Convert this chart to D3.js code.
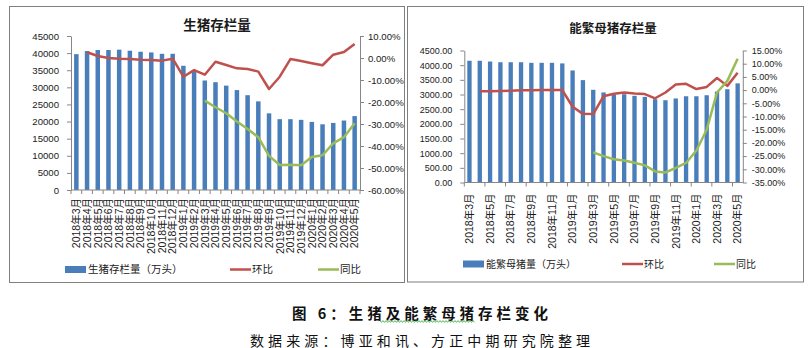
<!DOCTYPE html>
<html><head><meta charset="utf-8">
<script src="https://cdn.jsdelivr.net/npm/d3@7"></script>
<style>
html,body{margin:0;padding:0;background:#fff;}
svg{display:block;}
</style></head>
<body>
<svg id="c" width="812" height="348"></svg>
<script>
// ---------- data ----------
const months = ["2018年3月","2018年4月","2018年5月","2018年6月","2018年7月","2018年8月","2018年9月","2018年10月","2018年11月","2018年12月",
  "2019年1月","2019年2月","2019年3月","2019年4月","2019年5月","2019年6月","2019年7月","2019年8月","2019年9月","2019年10月","2019年11月","2019年12月",
  "2020年1月","2020年2月","2020年3月","2020年4月","2020年5月"];
const hogStock = [39700,40600,40900,40900,41000,40700,40400,40200,39800,39800,36300,34900,32000,31500,30500,29200,27700,25900,22400,20700,20700,20500,19900,19200,19600,20300,21600];
const hogMoM = [null,2.6,0.9,0.0,-0.3,-0.45,-0.8,-0.9,-1.2,-0.3,-8.5,-5.5,-7.6,-1.7,-3.2,-4.7,-5.0,-6.2,-14.1,-8.5,-0.5,-1.4,-2.4,-3.3,1.5,2.7,6.4];
const hogYoY = [null,null,null,null,null,null,null,null,null,null,null,null,-19.4,-22.4,-25.1,-28.9,-32.3,-36.0,-44.5,-48.6,-48.5,-48.8,-45.0,-44.2,-38.8,-36.0,-29.7];
const sowStock = [4150,4150,4125,4100,4100,4100,4080,4080,4080,4060,3820,3490,3160,3070,3000,3010,2955,2920,2840,2805,2865,2940,2940,2975,3100,3180,3380];
const sowMoM = [null,-0.4,-0.4,-0.3,-0.2,-0.1,-0.1,0.0,0.0,0.0,-6.3,-9.0,-9.1,-2.3,-1.4,-0.9,-1.3,-1.5,-3.1,-0.9,2.1,2.4,0.4,1.2,4.6,1.6,6.6];
const sowYoY = [null,null,null,null,null,null,null,null,null,null,null,null,-23.6,-25.0,-26.2,-26.7,-27.5,-28.5,-30.8,-31.2,-29.5,-27.6,-22.9,-15.0,-0.9,3.5,11.9];
const hogLeftTicks = [0,5000,10000,15000,20000,25000,30000,35000,40000,45000];
const hogRightTicks = [-60,-50,-40,-30,-20,-10,0,10];
const sowLeftTicks = [0,500,1000,1500,2000,2500,3000,3500,4000,4500];
const sowRightTicks = [-35,-30,-25,-20,-15,-10,-5,0,5,10,15];
const legendHog = ["生猪存栏量（万头）","环比","同比"];
const legendSow = ["能繁母猪量（万头）","环比","同比"];
const titles = ["生猪存栏量","能繁母猪存栏量"];
const caption1 = "图 6：生猪及能繁母猪存栏变化";
const caption2 = "数据来源：博亚和讯、方正中期研究院整理";

// ---------- style ----------
const BLUE = "#4a7ebb", RED = "#c0504d", GREEN = "#9bbb59", AXIS = "#868686";
const NUMFONT = "'Liberation Sans', Arial, 'Noto Sans CJK SC', sans-serif";
const CJK = "'Noto Sans CJK SC', sans-serif";

const svg = d3.select("#c");
svg.append("rect").attr("width",812).attr("height",348).attr("fill","#fff");

function panel(cfg){
  const g = svg.append("g");
  g.append("rect").attr("x",cfg.box[0]).attr("y",cfg.box[1]).attr("width",cfg.box[2]).attr("height",cfg.box[3])
    .attr("fill","#fff").attr("stroke","#7f7f7f").attr("stroke-width",1);
  g.append("text").attr("x",cfg.titleX).attr("y",cfg.titleY).attr("text-anchor","middle")
    .attr("font-family",CJK).attr("font-weight","bold").attr("font-size",cfg.titleSize).attr("fill","#1a1a1a").text(cfg.title);

  const x = d3.scaleBand().domain(months).range(cfg.xRange).paddingInner(0.58).paddingOuter(0.29);
  const yL = d3.scaleLinear().domain(cfg.yLDomain).range(cfg.yRange);
  const yR = d3.scaleLinear().domain(cfg.yRDomain).range(cfg.yRange);

  // bars
  g.append("g").selectAll("rect").data(cfg.bars).join("rect")
    .attr("x",(d,i)=>x(months[i])).attr("width",x.bandwidth())
    .attr("y",d=>yL(d)).attr("height",d=>yL(0)-yL(d)).attr("fill",BLUE);

  // axes
  const axL = g.append("g").attr("transform",`translate(${cfg.xRange[0]},0)`)
    .call(d3.axisLeft(yL).tickValues(cfg.lTicks).tickSize(4).tickSizeOuter(0).tickPadding(cfg.lPad).tickFormat(cfg.lFmt));
  const axR = g.append("g").attr("transform",`translate(${cfg.xRange[1]},0)`)
    .call(d3.axisRight(yR).tickValues(cfg.rTicks).tickSize(4).tickSizeOuter(0).tickPadding(cfg.rPad).tickFormat(d=>d.toFixed(2)+"%"));
  [axL,axR].forEach(a=>{
    a.selectAll("path,line").attr("stroke",AXIS);
    a.selectAll("text").attr("font-family",NUMFONT).attr("font-size",cfg.numSize).attr("fill","#1a1a1a");
  });
  // x axis
  const y0 = cfg.yRange[0];
  g.append("line").attr("x1",cfg.xRange[0]).attr("x2",cfg.xRange[1]).attr("y1",y0).attr("y2",y0).attr("stroke",AXIS);
  const step = x.step();
  g.append("g").selectAll("line").data(d3.range(0, months.length+1, cfg.tickEvery)).join("line")
    .attr("x1",i=>cfg.xRange[0]+i*step).attr("x2",i=>cfg.xRange[0]+i*step)
    .attr("y1",y0).attr("y2",y0+4).attr("stroke",AXIS);
  g.append("g").selectAll("text").data(months.filter((m,i)=>i%cfg.labelEvery===0)).join("text")
    .attr("transform",m=>`translate(${x(m)+x.bandwidth()/2},${y0+cfg.labelGap}) rotate(-90)`)
    .attr("text-anchor","end").attr("dy","0.36em")
    .attr("font-family",NUMFONT).attr("font-size",10.5).attr("fill","#1a1a1a").text(m=>m);

  // lines
  const cx = i=>x(months[i])+x.bandwidth()/2;
  const line = d3.line().defined(d=>d!=null).x((d,i)=>cx(i)).y(d=>yR(d));
  g.append("path").datum(cfg.mom).attr("d",line).attr("fill","none").attr("stroke",RED).attr("stroke-width",2.5).attr("stroke-linejoin","round");
  g.append("path").datum(cfg.yoy).attr("d",line).attr("fill","none").attr("stroke",GREEN).attr("stroke-width",2.5).attr("stroke-linejoin","round");

  // legend
  const ly = cfg.legendY;
  const lg = g.append("g").attr("font-family",CJK).attr("font-size",cfg.legSize).attr("fill","#1a1a1a");
  lg.append("rect").attr("x",cfg.legX[0]).attr("y",ly-3.5).attr("width",21).attr("height",7).attr("fill",BLUE);
  lg.append("text").attr("x",cfg.legX[0]+23).attr("y",ly).attr("dy","0.36em").text(cfg.legend[0]);
  lg.append("line").attr("x1",cfg.legX[1]).attr("x2",cfg.legX[1]+21).attr("y1",ly).attr("y2",ly).attr("stroke",RED).attr("stroke-width",2.5);
  lg.append("text").attr("x",cfg.legX[1]+22).attr("y",ly).attr("dy","0.36em").text(cfg.legend[1]);
  lg.append("line").attr("x1",cfg.legX[2]).attr("x2",cfg.legX[2]+21).attr("y1",ly).attr("y2",ly).attr("stroke",GREEN).attr("stroke-width",2.5);
  lg.append("text").attr("x",cfg.legX[2]+22).attr("y",ly).attr("dy","0.36em").text(cfg.legend[2]);
}

panel({
  box:[9.5,6.5,395,276], title:titles[0], titleX:217, titleY:30, titleSize:13.5,
  xRange:[71,360], yRange:[190,36], yLDomain:[0,45000], yRDomain:[-60,10],
  bars:hogStock, mom:hogMoM, yoy:hogYoY,
  lTicks:hogLeftTicks, rTicks:hogRightTicks, lFmt:d=>String(d), lPad:8, rPad:4, numSize:9.6,
  tickEvery:1, labelEvery:1, labelGap:8,
  legend:legendHog, legendY:269.5, legX:[65,230,318], legSize:10.5
});
panel({
  box:[407.5,6.5,396,275.5], title:titles[1], titleX:613, titleY:33, titleSize:12.5,
  xRange:[464.3,742.8], yRange:[182.5,50.5], yLDomain:[0,4500], yRDomain:[-35,15],
  bars:sowStock, mom:sowMoM, yoy:sowYoY,
  lTicks:sowLeftTicks, rTicks:sowRightTicks, lFmt:d=>d.toFixed(2), lPad:8, rPad:5, numSize:9,
  tickEvery:2, labelEvery:2, labelGap:11,
  legend:legendSow, legendY:264, legX:[463,622,714], legSize:10
});

// caption
svg.append("text").attr("x",292).attr("y",319).attr("textLength",256).attr("lengthAdjust","spacing")
  .attr("font-family",CJK).attr("font-weight","bold").attr("font-size",14.5).attr("fill","#111").text(caption1);
svg.append("text").attr("x",250).attr("y",345.5).attr("textLength",340).attr("lengthAdjust","spacing")
  .attr("font-family",CJK).attr("font-size",14).attr("fill","#111").text(caption2);
// spell-check squiggle under 能繁母猪
const sq = d3.range(380,476,1.5).map((v,i)=>[v, 321.5 + (i%2===0?-0.9:0.9)]);
svg.append("path").attr("d",d3.line()(sq)).attr("fill","none").attr("stroke","#3fae49").attr("stroke-width",0.9);
</script>
</body></html>
